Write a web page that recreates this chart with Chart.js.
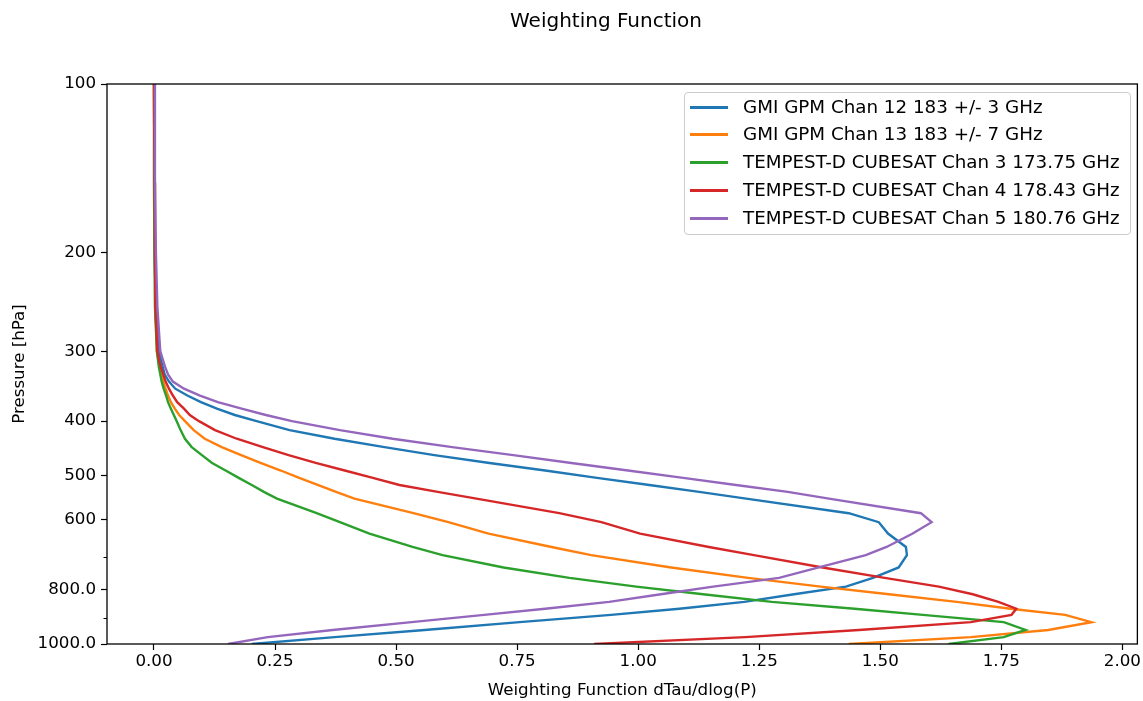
<!DOCTYPE html>
<html>
<head>
<meta charset="utf-8">
<script src="https://cdn.jsdelivr.net/npm/chart.js@4.4.1/dist/chart.umd.min.js"></script>
<style>
html,body{margin:0;padding:0;background:#fff;}
#wrap{position:relative;width:1143px;height:701px;font-family:"DejaVu Sans",sans-serif;overflow:hidden;}
#c{position:absolute;left:0;top:0;}
#title{position:absolute;left:406px;width:400px;top:9px;text-align:center;font-size:20px;line-height:22px;color:#000;}
#legend{position:absolute;left:684px;top:92px;width:445px;height:141px;border:1px solid #cccccc;border-radius:4px;background:rgba(255,255,255,0.8);}
.sw{position:absolute;left:5px;width:38px;height:2.5px;}
.lb{position:absolute;left:58px;white-space:nowrap;font-size:18.3px;line-height:20px;color:#000;}
</style>
</head>
<body>
<div id="wrap">
  <canvas id="c" width="1143" height="701"></canvas>
  <div id="title"></div>
  <div id="legend"></div>
</div>
<script>
// ---- data ----
const TITLE = 'Weighting Function';
const X_TITLE = 'Weighting Function dTau/dlog(P)';
const Y_TITLE = 'Pressure [hPa]';

const PRESSURE_HPA = [100,150,200,250,300,310,320,330,340,350,360,370,380,390,400,415,430,445,460,475,490,505,520,535,550,584,606,635,671,694,730,762,790,815,841,865,887,914,944,972,1000];

const GMI_CH12 = [0.001,0.001,0.002,0.004,0.010,0.014,0.018,0.022,0.031,0.044,0.069,0.097,0.130,0.167,0.212,0.280,0.373,0.476,0.579,0.693,0.808,0.915,1.023,1.126,1.223,1.435,1.497,1.516,1.553,1.555,1.538,1.485,1.429,1.322,1.219,1.085,0.944,0.755,0.559,0.373,0.202];
const GMI_CH13 = [0.000,0.001,0.002,0.003,0.006,0.009,0.012,0.015,0.019,0.024,0.029,0.035,0.043,0.052,0.064,0.082,0.105,0.140,0.180,0.220,0.262,0.300,0.338,0.376,0.414,0.536,0.608,0.691,0.821,0.903,1.068,1.227,1.377,1.518,1.658,1.769,1.882,1.936,1.847,1.687,1.435];
const TEMPEST_CH3 = [0.000,0.000,0.001,0.002,0.006,0.008,0.010,0.013,0.016,0.020,0.025,0.029,0.035,0.041,0.047,0.055,0.064,0.078,0.099,0.120,0.148,0.175,0.202,0.227,0.254,0.336,0.384,0.445,0.534,0.596,0.722,0.858,0.996,1.134,1.276,1.447,1.588,1.755,1.800,1.755,1.641];
const TEMPEST_CH4 = [0.000,0.001,0.002,0.003,0.007,0.010,0.014,0.019,0.024,0.031,0.039,0.048,0.062,0.074,0.093,0.126,0.171,0.225,0.278,0.334,0.394,0.452,0.507,0.586,0.666,0.837,0.924,1.004,1.146,1.239,1.381,1.509,1.621,1.691,1.744,1.781,1.771,1.687,1.456,1.221,0.909];
const TEMPEST_CH5 = [0.002,0.002,0.004,0.007,0.013,0.018,0.023,0.029,0.039,0.062,0.095,0.132,0.181,0.231,0.285,0.384,0.493,0.616,0.742,0.862,0.979,1.093,1.202,1.309,1.394,1.584,1.606,1.567,1.513,1.470,1.373,1.291,1.155,1.047,0.940,0.808,0.682,0.532,0.369,0.235,0.153];

const SERIES_LABELS = [
  'GMI GPM Chan 12 183 +/- 3 GHz',
  'GMI GPM Chan 13 183 +/- 7 GHz',
  'TEMPEST-D CUBESAT Chan 3 173.75 GHz',
  'TEMPEST-D CUBESAT Chan 4 178.43 GHz',
  'TEMPEST-D CUBESAT Chan 5 180.76 GHz'
];
const SERIES_VALUES = [GMI_CH12, GMI_CH13, TEMPEST_CH3, TEMPEST_CH4, TEMPEST_CH5];
const SERIES_COLORS = ['#1f77b4','#ff7f0e','#2ca02c','#d62728','#9467bd'];

const X_TICKS = [0, 0.25, 0.5, 0.75, 1.0, 1.25, 1.5, 1.75, 2.0];
const Y_TICKS = [100, 200, 300, 400, 500, 600, 800, 1000];
const Y_TICK_LABELS = ['100', '200', '300', '400', '500', '600', '800.0', '1000.0'];
const Y_MINOR_TICKS = [700, 900];
const X_MIN = -0.097, X_MAX = 2.031;
const Y_MIN = 100, Y_MAX = 1000;

// ---- chart ----
const FONT = 'DejaVu Sans';
const tickFont = {family: FONT, size: 16.7};

const datasets = SERIES_VALUES.map((vals, i) => ({
  label: SERIES_LABELS[i],
  data: vals.map((v, k) => ({x: v, y: PRESSURE_HPA[k]})),
  borderColor: SERIES_COLORS[i],
  backgroundColor: SERIES_COLORS[i],
  borderWidth: 2.4,
  showLine: true,
  pointRadius: 0,
  tension: 0,
  fill: false,
  order: SERIES_VALUES.length - i
}));

const framePlugin = {
  id: 'frame',
  afterDatasetsDraw(chart) {
    const {ctx, chartArea: a} = chart;
    const y = chart.scales.y;
    ctx.save();
    ctx.strokeStyle = '#000';
    ctx.lineWidth = 1.3;
    ctx.strokeRect(a.left, a.top, a.right - a.left, a.bottom - a.top);
    ctx.lineWidth = 1;
    Y_MINOR_TICKS.forEach(v => {
      const py = Math.round(y.getPixelForValue(v)) + 0.5;
      ctx.beginPath();
      ctx.moveTo(a.left - 3.5, py);
      ctx.lineTo(a.left, py);
      ctx.stroke();
    });
    ctx.restore();
  }
};

new Chart(document.getElementById('c').getContext('2d'), {
  type: 'scatter',
  data: {datasets},
  options: {
    responsive: false,
    animation: false,
    devicePixelRatio: 1,
    layout: {padding: {top: 84, right: 4, left: 0, bottom: 0}},
    plugins: {legend: {display: false}, title: {display: false}, tooltip: {enabled: false}},
    scales: {
      x: {
        type: 'linear', min: X_MIN, max: X_MAX,
        afterBuildTicks: s => { s.ticks = X_TICKS.map(v => ({value: v})); },
        afterFit: s => { s.height = 57; },
        ticks: {callback: v => Number(v).toFixed(2), font: tickFont, color: '#000', padding: 2, maxRotation: 0, autoSkip: false},
        grid: {drawOnChartArea: false, drawTicks: true, tickLength: 6, tickColor: '#000', tickWidth: 1.2},
        border: {display: false},
        title: {display: true, text: X_TITLE, font: tickFont, color: '#000', padding: {top: 3, bottom: 0}}
      },
      y: {
        type: 'logarithmic', reverse: true, min: Y_MIN, max: Y_MAX,
        afterBuildTicks: s => { s.ticks = Y_TICKS.map(v => ({value: v})); },
        afterFit: s => { s.width = 107; },
        ticks: {callback: v => { const i = Y_TICKS.indexOf(Number(v)); return i >= 0 ? Y_TICK_LABELS[i] : ''; }, font: tickFont, color: '#000', padding: 5, autoSkip: false},
        grid: {drawOnChartArea: false, drawTicks: true, tickLength: 6, tickColor: '#000', tickWidth: 1.2},
        border: {display: false},
        title: {display: true, text: Y_TITLE, font: tickFont, color: '#000', padding: {top: 10, bottom: 0}}
      }
    }
  },
  plugins: [framePlugin]
});

// ---- title and legend (text) ----
document.getElementById('title').textContent = TITLE;
const leg = document.getElementById('legend');
SERIES_LABELS.forEach((lab, i) => {
  const cy = Math.round(13.7 + i * 27.75);
  const sw = document.createElement('div');
  sw.className = 'sw';
  sw.style.top = (cy - 1) + 'px';
  sw.style.background = SERIES_COLORS[i];
  const tx = document.createElement('div');
  tx.className = 'lb';
  tx.style.top = (cy - 10) + 'px';
  tx.textContent = lab;
  leg.appendChild(sw);
  leg.appendChild(tx);
});
</script>
</body>
</html>
